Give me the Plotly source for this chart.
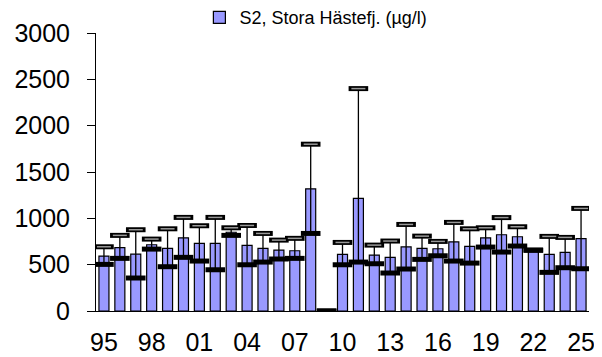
import plotly.graph_objects as go

# S2, Stora Hästefjorden - yearly mean, min and max (µg/l)
years = list(range(1995, 2026))
mean_vals = [593, 683, 614, 715, 676, 790, 730, 730, 850, 708, 676, 658, 650, 1318, 0, 611,
             1215, 604, 579, 693, 676, 672, 747, 697, 790, 823, 801, 658, 611, 633, 780]
max_vals = [693, 816, 877, 776, 887, 1010, 920, 1010, 898, 923, 837, 765, 784, 1800, 0, 740,
            2400, 711, 755, 934, 808, 751, 956, 887, 898, 1008, 909, 658, 805, 794, 1107]
min_vals = [503, 568, 356, 668, 478, 579, 539, 445, 816, 499, 528, 561, 568, 837, 0, 499,
            528, 510, 410, 453, 557, 596, 539, 517, 690, 636, 701, 655, 417, 467, 456]
tick_years = years[::3]
tick_text = [str(y)[-2:] for y in tick_years]

font = 'Arial, Liberation Sans, sans-serif'

fig = go.Figure()

fig.add_trace(go.Bar(
    x=years, y=mean_vals,
    name='S2, Stora Hästefj. (µg/l)',
    marker=dict(color='#9999FF', line=dict(color='black', width=1.2)),
    error_y=dict(type='data', symmetric=False,
                 array=[mx - m for mx, m in zip(max_vals, mean_vals)],
                 arrayminus=[m - mn for m, mn in zip(mean_vals, min_vals)],
                 color='black', thickness=1.3, width=0),
))

# max caps: black outlined rectangle with grey inside
fig.add_trace(go.Scatter(
    x=years, y=max_vals, mode='markers', showlegend=False, hoverinfo='skip',
    marker=dict(symbol='line-ew', size=14, line=dict(color='black', width=5)),
))
fig.add_trace(go.Scatter(
    x=years, y=max_vals, mode='markers', showlegend=False, hoverinfo='skip',
    marker=dict(symbol='line-ew', size=10, line=dict(color='#999999', width=1.5)),
))
# min markers
fig.add_trace(go.Scatter(
    x=years, y=min_vals, mode='markers', showlegend=False, hoverinfo='skip',
    marker=dict(symbol='line-ew', size=14, line=dict(color='black', width=5)),
))

# page body has an 8px margin: figure is 8px smaller, left/top margins shifted
fig.update_layout(
    width=594, height=349,
    margin=dict(l=88, r=13, t=25, b=46, autoexpand=False),
    plot_bgcolor='white', paper_bgcolor='white',
    bargap=0.37,
    font=dict(family=font, color='black'),
    showlegend=True,
    legend=dict(orientation='h', x=0.446, xanchor='center', y=1.055, yanchor='middle',
                font=dict(size=18), bgcolor='rgba(0,0,0,0)', itemwidth=30),
    xaxis=dict(range=[1994.5, 2025.5], tickvals=tick_years, ticktext=tick_text,
               showline=True, linecolor='black', linewidth=1, showgrid=False,
               ticks='', tickfont=dict(size=25), ticklabelstandoff=9,
               zeroline=False, automargin=False),
    yaxis=dict(range=[0, 3000], tickvals=list(range(0, 3001, 500)),
               showline=True, linecolor='black', linewidth=1, showgrid=False,
               ticks='outside', ticklen=8, tickcolor='black', ticklabelstandoff=12,
               tickfont=dict(size=25), zeroline=False, automargin=False),
)

fig.write_html('out.html')
